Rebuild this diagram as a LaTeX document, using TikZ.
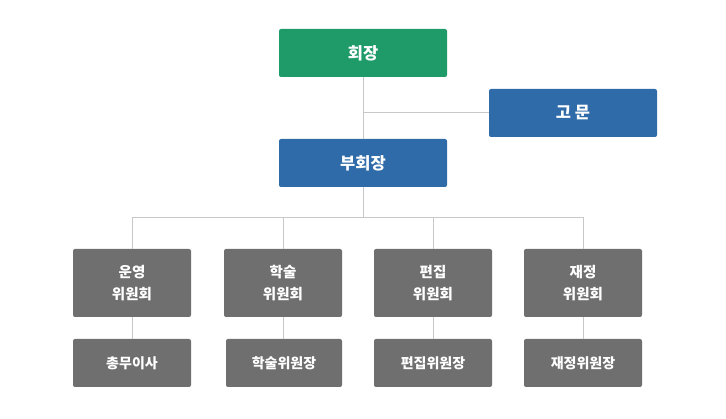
\documentclass[tikz,border=0pt]{standalone}
\usepackage{fontspec}
\setmainfont{Noto Sans CJK KR}
\definecolor{cgreen}{HTML}{1F9B6A}
\definecolor{cblue}{HTML}{2F6BA8}
\definecolor{cgray}{HTML}{6F6F6F}
\definecolor{cline}{HTML}{C8C8C8}
\tikzset{
  box/.style={fill=#1, draw=none, rounded corners=2pt, text=white, align=center, inner sep=0pt, font=\bfseries},
  topbox/.style={box=#1, minimum width=168pt, minimum height=48pt, font=\bfseries\fontsize{16.5}{18}\selectfont},
  midbox/.style={box=cgray, minimum width=118pt, minimum height=68pt, font=\bfseries\fontsize{14.5}{22}\selectfont},
  lowbox/.style={box=cgray, minimum width=118pt, minimum height=48pt, font=\bfseries\fontsize{14}{16}\selectfont},
  conn/.style={draw=cline, line width=1pt}
}
\begin{document}
\begin{tikzpicture}[x=1pt,y=-1pt]
\useasboundingbox (0,0) rectangle (726,419);
\node[topbox=cgreen] (pres) at (363,53) {회장};
\node[topbox=cblue] (adv) at (573,113) {고 문};
\node[topbox=cblue] (vp) at (363,163) {부회장};
\coordinate (j1) at (pres.south |- adv.west);
\coordinate (j2) at (363,218);
\node[midbox] (c1) at (132,283) {운영\\위원회};
\node[midbox] (c2) at (283,283) {학술\\위원회};
\node[midbox] (c3) at (433,283) {편집\\위원회};
\node[midbox] (c4) at (583,283) {재정\\위원회};
\node[lowbox] (l1) at (132,363) {총무이사};
\node[lowbox, minimum width=116pt] (l2) at (284,363) {학술위원장};
\node[lowbox] (l3) at (433,363) {편집위원장};
\node[lowbox] (l4) at (583,363) {재정위원장};
\draw[conn] (pres.south) -- (vp.north);
\draw[conn] (j1) -- (adv.west);
\draw[conn] (vp.south) -- (j2);
\draw[conn] (c1.north) |- (j2 -| c4.north) -- (c4.north);
\draw[conn] (c2.north) -- (c2.north |- j2);
\draw[conn] (c3.north) -- (c3.north |- j2);
\draw[conn] (c1.south) -- (l1.north);
\draw[conn] (c2.south) -- (c2.south |- l2.north);
\draw[conn] (c3.south) -- (l3.north);
\draw[conn] (c4.south) -- (l4.north);
\end{tikzpicture}
\end{document}
